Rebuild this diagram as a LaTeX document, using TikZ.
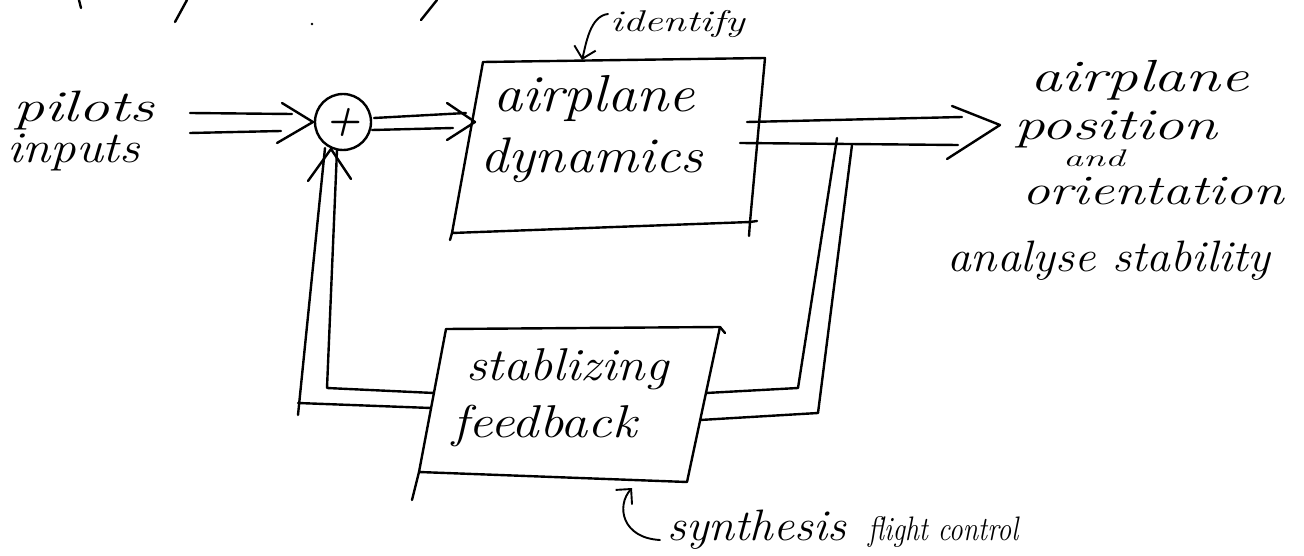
\documentclass[tikz,border=0pt]{standalone}
\usepackage{graphicx}
\usetikzlibrary{arrows.meta}
\newcommand\hand[3]{\scalebox{#1}[1]{\fontsize{#2}{#2}\selectfont\itshape #3}}
\begin{document}
\begin{tikzpicture}[x=1pt,y=-1pt,
  wire/.style={line width=2.4pt, line cap=round, line join=round},
  thinwire/.style={line width=1.9pt, line cap=round, line join=round},
  lbl/.style={inner sep=0pt, anchor=base west},
  sumc/.style={circle, draw, line width=2.4pt, minimum size=56pt, inner sep=0pt},
  barb/.style={-{Straight Barb[length=11pt,width=22pt,line width=1.9pt]}}]
\useasboundingbox (0,0) rectangle (1304,556);

% ---------- labels ----------
\node[lbl] (pilots) at (13,122) {\hand{1.41}{44}{pilots}};
\node[lbl] (inputs) at (7,163) {\hand{1.16}{44}{inputs}};
\node[sumc] (sum) at (343,122) {\hand{1}{40}{\bfseries +}};
\node[lbl] (dyn1) at (493,112) {\hand{1.12}{52}{airplane}};
\node[lbl] (dyn2) at (480,173) {\hand{1.12}{50}{dynamics}};
\node[lbl] (identify) at (610,32) {\hand{1.4}{30}{identify}};
\node[lbl] (out1) at (1030,92) {\hand{1.4}{45}{airplane}};
\node[lbl] (out2) at (1014,140) {\hand{1.39}{44}{position}};
\node[lbl] (out3) at (1063,167) {\hand{1.65}{24}{and}};
\node[lbl] (out4) at (1022,205) {\hand{1.32}{42}{orientation}};
\node[lbl] (analyse) at (947,272) {\hand{1.08}{44}{analyse stability}};
\node[lbl] (fb1) at (466,380) {\hand{1.12}{46}{stablizing}};
\node[lbl] (fb2) at (452,437) {\hand{1.18}{46}{feedback}};
\node[lbl] (synth) at (667,540) {\hand{1.07}{44}{synthesis}\hspace{22pt}\hand{0.82}{34}{flight control}};

% ---------- plant box ----------
\coordinate (p-tl) at (483,62);
\coordinate (p-tr) at (765,58);
\coordinate (p-br) at (750,222);
\coordinate (p-bl) at (452,233);
\draw[wire] (p-tl) -- (p-tr) -- (p-br) -- (p-bl) -- cycle;
\draw[wire] (p-bl) -- (450,240);
\draw[wire] (p-br) -- (749,236);
\draw[wire] (p-br) -- (757,221);

% ---------- feedback box ----------
\coordinate (f-tl) at (446,329);
\coordinate (f-tr) at (720,327);
\coordinate (f-br) at (687,482);
\coordinate (f-bl) at (419,472);
\draw[wire] (f-bl) -- (f-tl) -- (f-tr) -- (f-br) -- cycle;
\draw[wire] (f-bl) -- (412,500);
\draw[wire] (f-tr) -- (725,333);

% ---------- input double arrow ----------
\coordinate (i1s) at (190,113); \coordinate (i1e) at (292,114);
\coordinate (i2s) at (190,133); \coordinate (i2e) at (281,131);
\coordinate (i-tip) at (313,122);
\coordinate (i-b1) at (282,103); \coordinate (i-b2) at (277,143);
\draw[wire] (i1s) -- (i1e);
\draw[wire] (i2s) -- (i2e);
\draw[wire] (i-b1) -- (i-tip) -- (i-b2);

% ---------- sum to plant ----------
\coordinate (c1s) at (374,118); \coordinate (c1e) at (466,113);
\coordinate (c2s) at (372,130); \coordinate (c2e) at (453,128);
\coordinate (c-tip) at (475,122);
\coordinate (c-b1) at (447,103); \coordinate (c-b2) at (447,140);
\draw[wire] (c1s) -- (c1e);
\draw[wire] (c2s) -- (c2e);
\draw[wire] (c-b1) -- (c-tip) -- (c-b2);

% ---------- output ----------
\coordinate (o1s) at (747,122); \coordinate (o1e) at (962,117);
\coordinate (o2s) at (740,143); \coordinate (o2e) at (958,145);
\coordinate (o-tip) at (1000,125);
\coordinate (o-b1) at (952,106); \coordinate (o-b2) at (947,159);
\draw[wire] (o1s) -- (o1e);
\draw[wire] (o2s) -- (o2e);
\draw[wire] (o-b1) -- (o-tip) -- (o-b2);

% ---------- feedback, right branch ----------
\coordinate (fri-top) at (837,138); \coordinate (fri-bot) at (798,388); \coordinate (fri-box) at (706,393);
\coordinate (fro-top) at (852,145); \coordinate (fro-bot) at (818,413); \coordinate (fro-box) at (700,420);
\draw[wire] (fri-top) -- (fri-bot) -- (fri-box);
\draw[wire] (fro-top) -- (fro-bot) -- (fro-box);

% ---------- feedback, left branch ----------
\coordinate (fli-box) at (434,393); \coordinate (fli-bot) at (327,388); \coordinate (fli-top) at (337,150);
\coordinate (flo-box) at (431,408); \coordinate (flo-bot) at (298,403); \coordinate (flo-top) at (325,148);
\draw[wire] (fli-box) -- (fli-bot) -- (fli-top);
\draw[wire] (flo-box) -- (flo-bot);
\draw[wire] (298,415) -- (flo-top);
\coordinate (u-tip) at (331,149);
\coordinate (u-b1) at (308,181); \coordinate (u-b2) at (351,179);
\draw[wire] (u-b1) -- (u-tip) -- (u-b2);

% ---------- annotation arrows ----------
\coordinate (id-start) at (608,14); \coordinate (id-tip) at (582,60);
\draw[thinwire, barb] (id-start) .. controls (590,16) and (586,44) .. (id-tip);
\coordinate (sy-start) at (660,540); \coordinate (sy-tip) at (632,488);
\draw[thinwire, barb] (sy-start) .. controls (622,538) and (616,506) .. (sy-tip);

% ---------- cut-off strokes at the top edge ----------
\draw[wire] (79,0) -- (81,8);
\draw[wire] (187,0) -- (175,22);
\draw[wire] (437,0) -- (421,20);
\fill (312,24) circle (1.3);
\end{tikzpicture}
\end{document}
